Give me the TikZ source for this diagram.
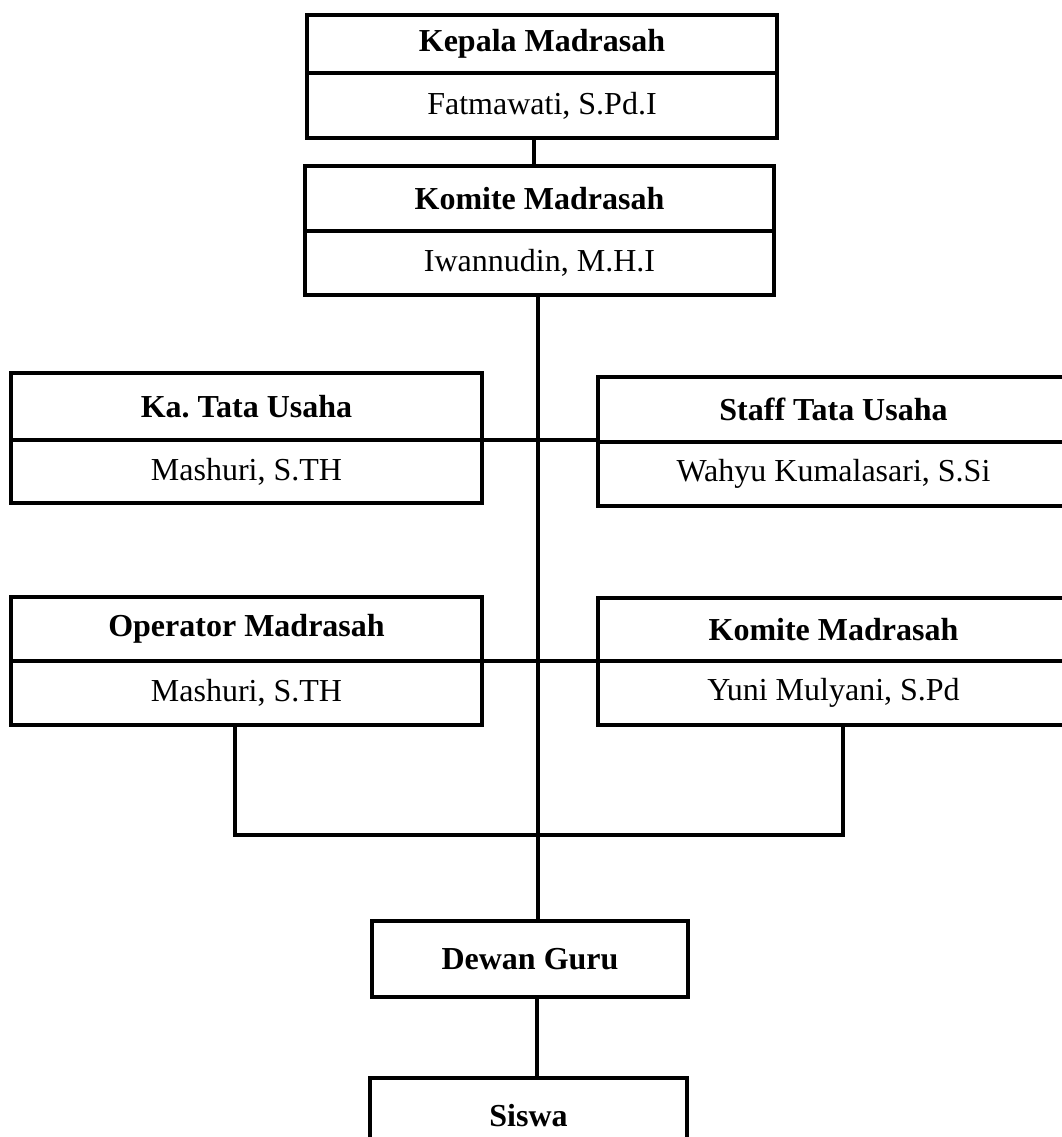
\documentclass[tikz,border=0pt]{standalone}
\usepackage{fontspec}
\setmainfont{Liberation Serif}
\usepackage{tikz}
\frenchspacing

\begin{document}
\begin{tikzpicture}[x=1pt,y=-1pt,
        cell/.style={draw,line width=4pt,inner sep=0pt,outer sep=0pt,minimum width=471pt,
            font=\fontsize{32}{38}\selectfont},
        head/.style={cell,font=\fontsize{32}{38}\selectfont\bfseries},
        link/.style={line width=4pt}]
                \clip (0,0) rectangle (1062,1137);
                % top
                \node[head,minimum height=58pt,minimum width=470pt] (kepala) at (542,44) {Kepala Madrasah};
                \node[cell,minimum height=65pt,minimum width=470pt] (kepalaN) at (542,105.5) {Fatmawati, S.Pd.I};
                \node[head,minimum height=65pt,minimum width=469pt] (komite) at (539.5,198.5) {Komite Madrasah};
                \node[cell,minimum height=64pt,minimum width=469pt] (komiteN) at (539.5,263) {Iwannudin, M.H.I};
                % tata usaha
                \node[head,minimum height=67pt] (ka) at (246.5,406.5) {Ka. Tata Usaha};
                \node[cell,minimum height=63pt] (kaN) at (246.5,471.5) {Mashuri, S.TH};
                \node[head,minimum height=65pt] (staff) at (833.5,409.5) {Staff Tata Usaha};
                \node[cell,minimum height=64pt] (staffN) at (833.5,474) {Wahyu Kumalasari, S.Si};
                % operator
                \node[head,minimum height=64pt] (op) at (246.5,629) {Operator Madrasah};
                \node[cell,minimum height=64pt] (opN) at (246.5,693) {Mashuri, S.TH};
                \node[head,minimum height=63pt] (kom) at (833.5,629.5) {Komite Madrasah};
                \node[cell,minimum height=64pt] (komN) at (833.5,693) {Yuni Mulyani, S.Pd};
                % bottom
                \node[head,minimum height=76pt,minimum width=316pt] (dewan) at (530,959) {Dewan Guru};
                \node[head,minimum height=76pt,minimum width=317pt] (siswa) at (528.5,1116) {Siswa};
                % lines
                \draw[link] ([xshift=-8pt]kepalaN.south) -- ([xshift=-8pt]kepalaN.south |- komite.north);
                \draw[link] ([xshift=-2pt]komiteN.south) -- ([xshift=-2pt]komiteN.south |- dewan.north);
                \draw[link] (kaN.north east) -- (kaN.north east -| staffN.west);
                \draw[link] (opN.north east) -- (opN.north east -| komN.west);
                \draw[link] ([xshift=-11.5pt]opN.south) -- ++(0,110) -| ([xshift=9.5pt]komN.south);
                \draw[link] ([xshift=7pt]dewan.south) -- ([xshift=7pt]dewan.south |- siswa.north);
            \end{tikzpicture}
\end{document}
